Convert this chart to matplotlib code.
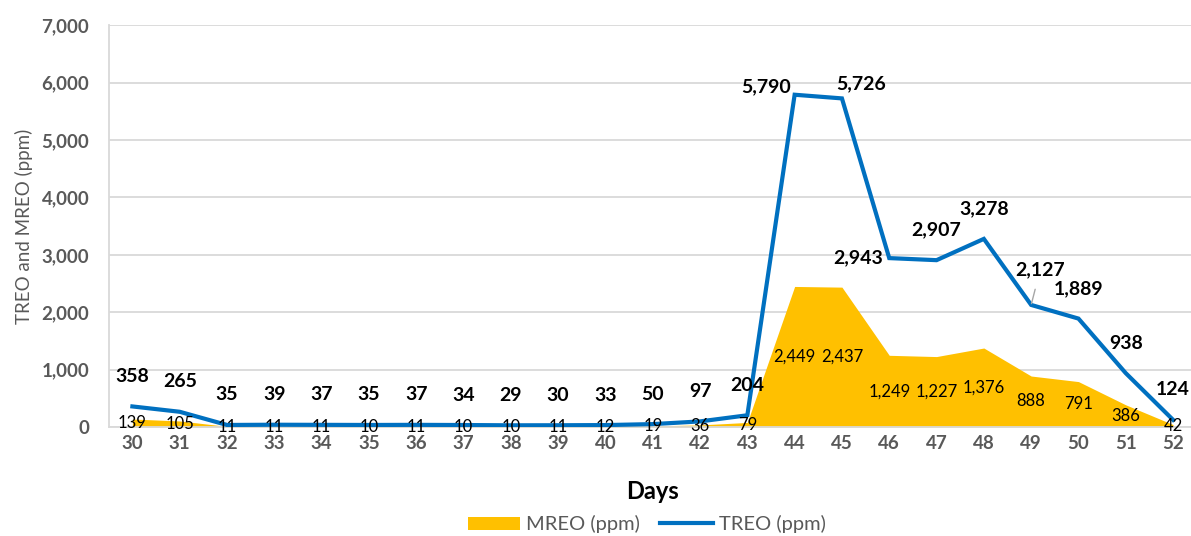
import matplotlib
matplotlib.use("Agg")
import matplotlib.pyplot as plt
from matplotlib.patches import Patch
from matplotlib.lines import Line2D
from matplotlib.ticker import FuncFormatter

plt.rcParams["font.family"] = ["Lato", "DejaVu Sans"]

days = [30, 31, 32, 33, 34, 35, 36, 37, 38, 39, 40, 41, 42, 43, 44, 45, 46, 47, 48, 49, 50, 51, 52]
treo = [358, 265, 35, 39, 37, 35, 37, 34, 29, 30, 33, 50, 97, 204,
        5790, 5726, 2943, 2907, 3278, 2127, 1889, 938, 124]
mreo = [139, 105, 11, 11, 11, 10, 11, 10, 10, 11, 12, 19, 36, 79,
        2449, 2437, 1249, 1227, 1376, 888, 791, 386, 42]

C_MREO = "#FFC000"
C_TREO = "#0070C0"
C_GRID = "#D9D9D9"
C_AXTXT = "#595959"

# label nudges (pixels) where Excel moved the TREO label off the default "above" spot
treo_offsets = {44: (-29, 8), 45: (19, 15), 46: (-31, 0), 49: (9, 35)}

fig = plt.figure(figsize=(11.91, 5.36), dpi=100)
ax = fig.add_axes([0.0913, 0.2034, 0.9135, 0.7494])

x = list(range(len(days)))
ax.fill_between(x, 0, mreo, color=C_MREO, linewidth=0, zorder=2)
ax.plot(x, treo, color=C_TREO, lw=3, zorder=3, solid_joinstyle="miter")

for i, (d, v) in enumerate(zip(days, mreo)):
    ax.text(i, v / 2, f"{v:,}", ha="center", va="center", fontsize=12, color="black", zorder=4)

for i, (d, v) in enumerate(zip(days, treo)):
    dx, dy = treo_offsets.get(d, (0, 30))
    kw = {}
    if d == 49:
        kw["arrowprops"] = dict(arrowstyle="-", color="#A6A6A6", lw=1, shrinkA=6, shrinkB=1)
    ax.annotate(f"{v:,}", (i, v), xytext=(dx, dy), textcoords="offset pixels",
                ha="center", va="center", fontsize=14, fontweight="bold", color="black",
                zorder=5, **kw)

ax.set_xlim(-0.5, len(days) - 0.5)
ax.set_ylim(0, 7000)
ax.set_yticks(range(0, 7001, 1000))
ax.yaxis.set_major_formatter(FuncFormatter(lambda v, p: f"{int(v):,}"))
ax.set_xticks(x)
ax.set_xticklabels([str(d) for d in days])
for lab in ax.get_xticklabels() + ax.get_yticklabels():
    lab.set_fontweight("bold")
    lab.set_color(C_AXTXT)
    lab.set_fontsize(13.5)
ax.tick_params(axis="both", length=0)
ax.tick_params(axis="y", pad=14)
ax.tick_params(axis="x", pad=6)

ax.grid(axis="y", color=C_GRID, lw=1.3, zorder=0)
ax.set_axisbelow(True)
for s in ["top", "right"]:
    ax.spines[s].set_visible(False)
ax.spines["left"].set_color(C_GRID)
ax.spines["left"].set_linewidth(1.3)
ax.spines["bottom"].set_color(C_GRID)
ax.spines["bottom"].set_linewidth(1.3)

ax.set_ylabel("TREO and MREO (ppm)", fontsize=13.5, color=C_AXTXT, labelpad=6)
ax.set_xlabel("Days", fontsize=17, fontweight="bold", color="black", labelpad=20)

handles = [Patch(facecolor=C_MREO, edgecolor="none", label="MREO (ppm)"),
           Line2D([0], [0], color=C_TREO, lw=3, label="TREO (ppm)")]
leg = fig.legend(handles=handles, loc="center", bbox_to_anchor=(0.543, 0.022), ncol=2,
                 frameon=False, fontsize=14.5, handlelength=2.6, handletextpad=0.3,
                 columnspacing=1.0, handleheight=0.6)
for t in leg.get_texts():
    t.set_color(C_AXTXT)

fig.savefig("out.png", dpi=100)
